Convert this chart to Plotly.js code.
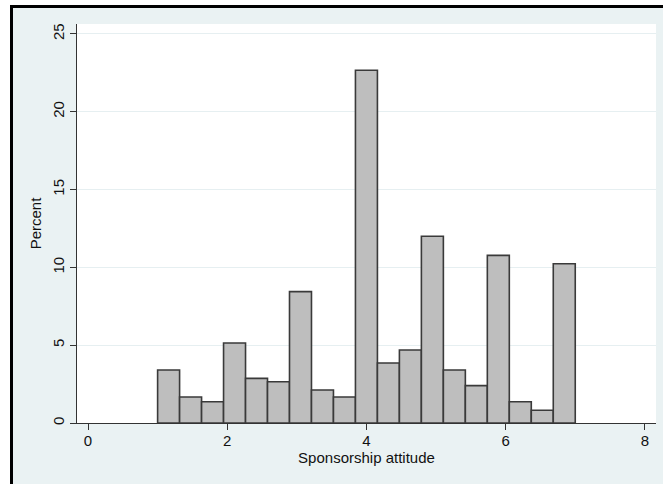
<!DOCTYPE html>
<html>
<head>
<meta charset="utf-8">
<script src="https://cdn.plot.ly/plotly-3.0.1.min.js"></script>
<style>
  html, body { margin: 0; padding: 0; background: #ffffff; width: 663px; height: 484px; overflow: hidden; }
  #frame { position: absolute; left: 10px; top: 5px; width: 653px; height: 479px;
           border-top: 3px solid #000; border-left: 3px solid #000; box-sizing: border-box; }
  #chart { position: absolute; left: 13px; top: 8px; width: 650px; height: 476px; }
</style>
</head>
<body>
<div id="frame"></div>
<div id="chart"></div>
<script>
// Histogram of sponsorship attitude: 19 bins from 1 to 7
const binStart = 1;
const binEnd = 7;
const percents = [3.41, 1.67, 1.37, 5.14, 2.87, 2.65, 8.44, 2.12, 1.67, 22.67,
                  3.86, 4.69, 12.0, 3.41, 2.40, 10.77, 1.37, 0.82, 10.23];
const xTicks = [0, 2, 4, 6, 8];
const yTicks = [0, 5, 10, 15, 20, 25];

const binWidth = (binEnd - binStart) / percents.length;
const centers = percents.map((_, i) => binStart + binWidth * (i + 0.5));

const font = "Liberation Sans, Arial, Helvetica, sans-serif";

const trace = {
  type: 'bar',
  x: centers,
  y: percents,
  width: binWidth,
  marker: { color: '#BEBEBE', line: { color: '#3a3a3a', width: 1.6 } },
  hoverinfo: 'skip'
};

const layout = {
  width: 650, height: 476,
  margin: { l: 64, r: 7, t: 16, b: 61 },
  paper_bgcolor: '#EAF2F3',
  plot_bgcolor: '#FFFFFF',
  showlegend: false,
  bargap: 0,
  font: { family: font, size: 15, color: '#111' },
  xaxis: {
    range: [-0.158, 8.16],
    tickvals: xTicks,
    ticktext: xTicks.map(String),
    ticks: 'outside', ticklen: 6, tickcolor: '#333', tickwidth: 1,
    ticklabelstandoff: -2,
    showgrid: false, zeroline: false,
    showline: true, linecolor: '#333', linewidth: 1,
    tickfont: { family: font, size: 15, color: '#111' },
    title: { text: 'Sponsorship attitude', font: { family: font, size: 15, color: '#111' }, standoff: 4 }
  },
  yaxis: {
    range: [0, 25.64],
    tickvals: yTicks,
    ticktext: yTicks.map(String),
    tickangle: -90,
    ticks: 'outside', ticklen: 6, tickcolor: '#333', tickwidth: 1,
    showgrid: true, gridcolor: '#E6EFF1', gridwidth: 1,
    zeroline: false,
    showline: true, linecolor: '#333', linewidth: 1,
    tickfont: { family: font, size: 15, color: '#111' },
    title: { text: 'Percent', font: { family: font, size: 15, color: '#111' }, standoff: 4 }
  }
};

Plotly.newPlot('chart', [trace], layout, { staticPlot: true, displayModeBar: false });
</script>
</body>
</html>
